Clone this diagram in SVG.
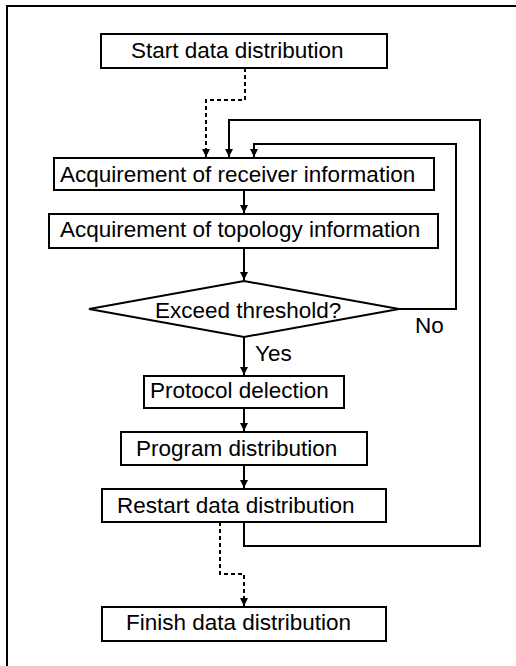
<svg xmlns="http://www.w3.org/2000/svg" width="516" height="666" viewBox="0 0 516 666">
<defs>
<style>
.box{fill:#fff;stroke:#000;stroke-width:2}
.t{font-family:"Liberation Sans",Arial,sans-serif;font-size:22.5px;fill:#000}
.c{fill:none;stroke:#000;stroke-width:2}
.d{fill:none;stroke:#000;stroke-width:2;stroke-dasharray:4 3}
</style>
<marker id="ah" viewBox="0 0 10 10" refX="10" refY="5" markerWidth="8" markerHeight="8" markerUnits="userSpaceOnUse" orient="auto">
<path d="M0,0 L10,5 L0,10 z" fill="#000"/>
</marker>
</defs>
<rect width="516" height="666" fill="#fff"/>
<path d="M7,666 L7,6 L516,6" fill="none" stroke="#000" stroke-width="2"/>
<g id="connectors">
<path class="d" d="M245,68 V100 H206 V157" marker-end="url(#ah)"/>
<path class="c" d="M244,522 V546 H480 V120 H229 V157" marker-end="url(#ah)"/>
<path class="c" d="M399,309 H456 V144 H254 V157" marker-end="url(#ah)"/>
<path class="c" d="M244,190 V213" marker-end="url(#ah)"/>
<path class="c" d="M244,248 V280" marker-end="url(#ah)"/>
<path class="c" d="M244,337 V375" marker-end="url(#ah)"/>
<path class="c" d="M244,408 V431" marker-end="url(#ah)"/>
<path class="c" d="M244,465 V488" marker-end="url(#ah)"/>
<path class="d" d="M220,522 V574 H244 V606" marker-end="url(#ah)"/>
<text class="t" x="415" y="333">No</text>
<text class="t" x="255" y="361">Yes</text>
</g>
<g id="start">
<rect class="box" x="101" y="34" width="286" height="34"/>
<text class="t" x="131" y="58">Start data distribution</text>
</g>
<g id="receiver">
<rect class="box" x="54" y="158" width="380" height="32"/>
<text class="t" x="60" y="182">Acquirement of receiver information</text>
</g>
<g id="topology">
<rect class="box" x="49" y="214" width="389" height="34"/>
<text class="t" x="60" y="237">Acquirement of topology information</text>
</g>
<g id="decision">
<polygon class="box" points="244,281 399,309 244,337 89,309"/>
<text class="t" x="155" y="318">Exceed threshold?</text>
</g>
<g id="protocol">
<rect class="box" x="144" y="376" width="200" height="32"/>
<text class="t" x="150" y="398">Protocol delection</text>
</g>
<g id="program">
<rect class="box" x="121" y="432" width="246" height="33"/>
<text class="t" x="136" y="456">Program distribution</text>
</g>
<g id="restart">
<rect class="box" x="102" y="489" width="284" height="33"/>
<text class="t" x="117" y="513">Restart data distribution</text>
</g>
<g id="finish">
<rect class="box" x="102" y="607" width="284" height="34"/>
<text class="t" x="126" y="630">Finish data distribution</text>
</g>
</svg>
